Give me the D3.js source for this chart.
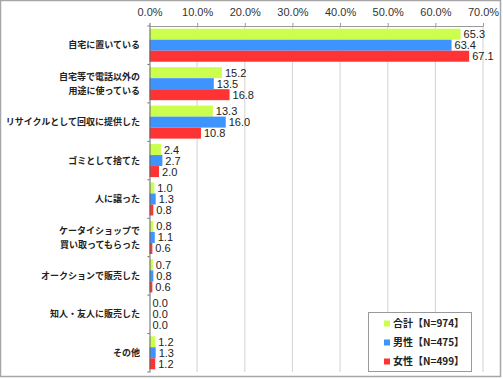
<!DOCTYPE html>
<html><head><meta charset="utf-8">
<script src="https://cdn.jsdelivr.net/npm/d3@7"></script>
<style>body{margin:0;background:#fff}svg{display:block}</style>
</head><body>
<script>
const categories = [["自宅に置いている"],["自宅等で電話以外の","用途に使っている"],["リサイクルとして回収に提供した"],["ゴミとして捨てた"],["人に譲った"],["ケータイショップで","買い取ってもらった"],["オークションで販売した"],["知人・友人に販売した"],["その他"]];
const seriesNames = ["合計【N=974】","男性【N=475】","女性【N=499】"];
const total = [65.3,15.2,13.3,2.4,1.0,0.8,0.7,0.0,1.2];
const male = [63.4,13.5,16.0,2.7,1.3,1.1,0.8,0.0,1.3];
const female = [67.1,16.8,10.8,2.0,0.8,0.6,0.6,0.0,1.2];
const ticks = [0,10,20,30,40,50,60,70];
const colors = ["#ccff4d","#3d94ff","#ff3333"];
const series = [total, male, female];

const W=503,H=379;
const svg=d3.select("body").append("svg").attr("width",W).attr("height",H);
svg.append("rect").attr("x",0.5).attr("y",0.5).attr("width",500).attr("height",376).attr("fill","#fff").attr("stroke","#a6a6a6").attr("stroke-width",1.5);

const L=149.5,R=483,T=26,B=372;
const x=d3.scaleLinear().domain([0,70]).range([L,R]);
const y=d3.scaleBand().domain(d3.range(categories.length)).range([T,B]);
const sub=d3.scaleBand().domain([0,1,2]).range([0,33]);
const off=(y.bandwidth()-33)/2;

// gridlines
svg.append("g").selectAll("line").data(ticks.slice(1)).join("line")
 .attr("x1",d=>x(d)).attr("x2",d=>x(d)).attr("y1",T).attr("y2",B)
 .attr("stroke","#d9d9d9").attr("stroke-width",1.2);
// top axis
const ax=svg.append("g").attr("transform",`translate(0,${T})`)
 .call(d3.axisTop(x).tickValues(ticks).tickSize(3).tickFormat(d=>d.toFixed(1)+"%"));
ax.select(".domain").attr("stroke","#999");
ax.selectAll(".tick line").attr("stroke","#999");
ax.selectAll("text").attr("font-family","Liberation Sans, Arial, sans-serif").attr("font-size",11).attr("fill","#333").attr("dy","-4");

// bars
series.forEach((s,si)=>{
  const g=svg.append("g");
  g.selectAll("rect").data(s).join("rect")
   .attr("x",x(0)).attr("y",(d,i)=>y(i)+off+sub(si))
   .attr("width",d=>x(d)-x(0)).attr("height",sub.bandwidth())
   .attr("fill",colors[si]);
  g.selectAll("text").data(s).join("text")
   .attr("x",d=>x(d)+3).attr("y",(d,i)=>y(i)+off+sub(si)+sub.bandwidth()/2)
   .attr("dy","0.36em").attr("font-family","Liberation Sans, Arial, sans-serif")
   .attr("font-size",11).attr("fill","#222").text(d=>d.toFixed(1));
});

// left axis
const la=svg.append("g").attr("transform",`translate(${L},0)`)
 .call(d3.axisLeft(y).tickValues([]).tickSize(0));
la.select(".domain").attr("stroke","#666");
svg.append("g").selectAll("line").data(d3.range(categories.length+1)).join("line")
 .attr("x1",L-2).attr("x2",L).attr("y1",d=>T+d*y.step()).attr("y2",d=>T+d*y.step()).attr("stroke","#666");

// category labels
const cl=svg.append("g");
categories.forEach((c,i)=>{
  const cy=y(i)+y.bandwidth()/2;
  const t=cl.append("text").attr("x",140).attr("text-anchor","end")
   .attr("font-family","Noto Sans CJK JP, sans-serif").attr("font-size",9).attr("font-weight","bold").attr("fill","#222");
  c.forEach((line,j)=>{
    t.append("tspan").attr("x",140).attr("y",cy+(j-(c.length-1)/2)*14).attr("dy","0.35em").text(line);
  });
});

// legend
const lg=svg.append("g");
lg.append("rect").attr("x",368.5).attr("y",312.5).attr("width",103).attr("height",59).attr("fill","#fff").attr("stroke","#999");
seriesNames.forEach((n,i)=>{
  const cy=323.5+i*19;
  lg.append("rect").attr("x",384).attr("y",cy-3).attr("width",6).attr("height",6).attr("fill",colors[i]);
  lg.append("text").attr("x",393).attr("y",cy).attr("dy","0.35em")
   .attr("font-family","Noto Sans CJK JP, sans-serif").attr("font-size",10).attr("font-weight","bold").attr("fill","#222").text(n);
});
</script>
</body></html>
